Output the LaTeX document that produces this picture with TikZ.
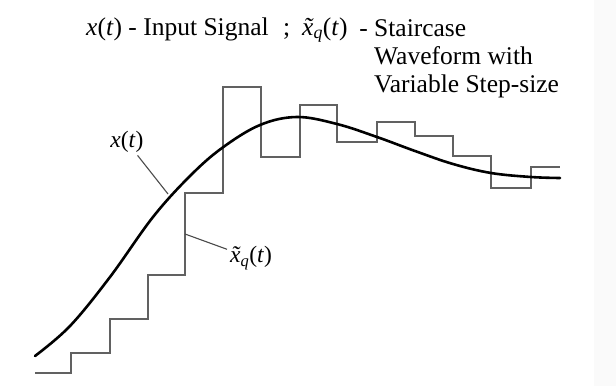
\documentclass[tikz,border=0pt]{standalone}
\usepackage{fontspec}
\setmainfont{Liberation Serif}
\tikzset{
  sigline/.style={line width=2.6pt, black, line cap=round, line join=round},
  stairline/.style={line width=1.6pt, black!62, line join=miter},
  leader/.style={line width=1.1pt, black!70},
  lbl/.style={inner sep=1pt, font=\fontsize{23.5}{27}\selectfont},
  legtxt/.style={anchor=base west, inner sep=0pt, font=\fontsize{25.5}{28}\selectfont}
}
\newcommand{\xsig}{\textit{x}(\textit{t})}
\newcommand{\xstair}{\textit{\accent"02DC x}\textsubscript{\textit{q}}(\textit{t})}
\begin{document}
\begin{tikzpicture}[x=1pt,y=-1pt]%
\useasboundingbox (0,0) rectangle (616,386);
\fill[white] (0,0) rectangle (616,386);
\fill[black!2] (594,0) rectangle (616,386);
% legend text
\node[legtxt] (legend) at (86,35) {\xsig\ - Input Signal};
\node[legtxt] (semi) at (283,35) {;};
\node[legtxt] (legxq) at (302,35) {\xstair};
\node[legtxt, align=left] (stairtxt)
  at (374,92) {\llap{- }Staircase\\Waveform with\\Variable Step-size};
\draw[stairline] (35,373) -- (71,373) -- (71,353) -- (110,353) -- (110,319)
  -- (148,319) -- (148,275) -- (185,275) -- (185,193) -- (223,193)
  -- (223,87) -- (261,87) -- (261,157) -- (300,157) -- (300,105)
  -- (337,105) -- (337,142) -- (377,142) -- (377,122) -- (415,122)
  -- (415,136) -- (453,136) -- (453,156) -- (491,156) -- (491,188)
  -- (531,188) -- (531,167) -- (560,167);
\draw[sigline] plot[smooth, tension=0.6] coordinates {
  (35,356) (70,326) (110,277) (153,217) (190,176) (222,148) (260,125)
  (297,117) (337,124) (377,137) (415,151) (453,164) (491,173) (531,177)
  (560,178)};
\node[lbl] (xlab) at (127,142) {\xsig};
\node[lbl] (xqlab) at (251,258) {\xstair};
\coordinate (xtip) at (168,194);
\coordinate (xqtip) at (185,234);
\draw[leader, shorten <=2pt] (xlab) -- (xtip);
\draw[leader, shorten <=2pt] (xqlab) -- (xqtip);
\end{tikzpicture}
\end{document}
